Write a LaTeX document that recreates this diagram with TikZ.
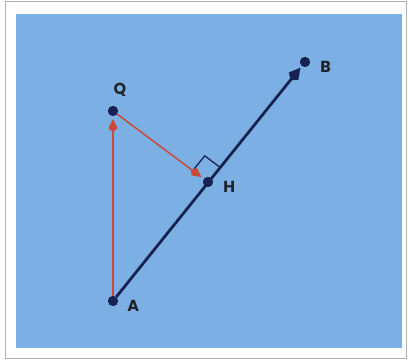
\documentclass[tikz,border=0pt]{standalone}
\usepackage{fontspec}
\setmainfont{Poppins}
\usetikzlibrary{arrows.meta,positioning,calc}
\definecolor{panelblue}{RGB}{124,176,228}
\definecolor{navy}{RGB}{24,34,82}
\definecolor{vecred}{RGB}{204,72,56}
\definecolor{lblgray}{RGB}{34,36,44}

\begin{document}
\begin{tikzpicture}[x=1pt, y=-1pt,
  pt/.style={circle, fill=navy, inner sep=0pt, minimum size=10pt},
  lbl/.style={draw=none, font=\bfseries\fontsize{16}{18}\selectfont, text=lblgray, inner sep=1pt},
  redvec/.style={vecred, line width=1.5pt, shorten >=3pt, -{Kite[length=13pt,width=9pt,inset=4pt]}},
  bluevec/.style={navy, line width=2.8pt, shorten >=2pt, -{Kite[length=16pt,width=12pt,inset=5pt]}}
]
  \useasboundingbox (0,0) rectangle (408,361);
  \draw[gray!60, line width=1pt, fill=white] (5,2) rectangle (406,359);
  \fill[panelblue] (16,14) rectangle (402,348);

  \node[pt] (A) at (113, 301) {};
  \node[pt] (Q) at (113, 111) {};
  \node[pt] (H) at (208, 182) {};
  \node[pt] (B) at (305,  62) {};

  % right angle at H
  \coordinate (hq) at ($(H.center)!19pt!(Q.center)$);
  \coordinate (hb) at ($(H.center)!19pt!(B.center)$);
  \draw[navy, line width=1.3pt] (hq) -- ($(hq)+(hb)-(H.center)$) -- (hb);

  \draw[bluevec] (A) -- (B);
  \draw[redvec] (A) -- (Q);
  \draw[redvec] (Q) -- (H);

  \node[pt] at (A) {};
  \node[pt] at (Q) {};
  \node[pt] at (H) {};
  \node[pt] at (B) {};

  \node[lbl, above=8pt of Q, xshift=7pt] (lQ) {Q};
  \node[lbl, right=9pt of B, yshift=-5pt] (lB) {B};
  \node[lbl, right=9pt of H, yshift=-5pt] (lH) {H};
  \node[lbl, right=8pt of A, yshift=-5pt] (lA) {A};
\end{tikzpicture}
\end{document}
